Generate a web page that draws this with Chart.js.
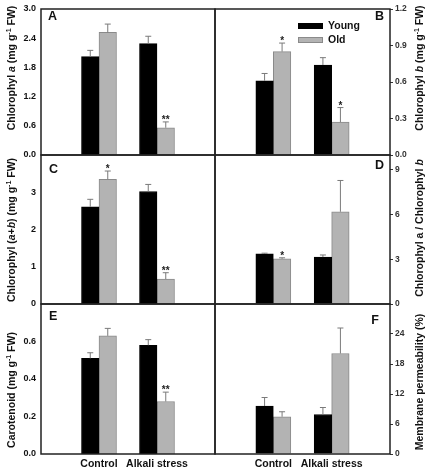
<!DOCTYPE html>
<html lang="en">
<head>
<meta charset="UTF-8">
<title>Leaf pigments and membrane permeability</title>
<script src="https://cdn.jsdelivr.net/npm/chart.js"></script>
<style>
  body { margin: 0; background: #fff; font-family: 'Liberation Sans', Arial, sans-serif; }
  #fig { position: relative; width: 430px; height: 472px; overflow: hidden; }
  #fig canvas { position: absolute; }
  .ytitle {
    position: absolute;
    font-size: 10.5px;
    font-weight: bold;
    color: #111;
    white-space: nowrap;
    transform: translate(-50%, -50%) rotate(-90deg);
  }
  .ytitle sup { font-size: 7px; line-height: 0; vertical-align: 4px; }
</style>
</head>
<body>
<div id="fig">
  <canvas id="pA" width="217" height="162" style="left:0;top:0"></canvas>
  <canvas id="pB" width="217" height="162" style="left:213px;top:0"></canvas>
  <canvas id="pC" width="217" height="164" style="left:0;top:148px"></canvas>
  <canvas id="pD" width="217" height="164" style="left:213px;top:148px"></canvas>
  <canvas id="pE" width="217" height="175" style="left:0;top:297px"></canvas>
  <canvas id="pF" width="217" height="175" style="left:213px;top:297px"></canvas>

  <div class="ytitle" style="left:11px;top:68px">Chlorophyl <i>a</i> (mg g<sup>-1</sup> FW)</div>
  <div class="ytitle" style="left:11px;top:230px">Chlorophyl (<i>a</i>+<i>b</i>) (mg g<sup>-1</sup> FW)</div>
  <div class="ytitle" style="left:11px;top:390px">Carotenoid (mg g<sup>-1</sup> FW)</div>
  <div class="ytitle" style="left:419px;top:68px">Chlorophyl <i>b</i> (mg g<sup>-1</sup> FW)</div>
  <div class="ytitle" style="left:419px;top:228px">Chlorophyl a / Chlorophyl <i>b</i></div>
  <div class="ytitle" style="left:419px;top:382px">Membrane permeability (%)</div>
</div>

<script>
  // categories and series
  const groups = ['Control', 'Alkali stress'];
  const seriesNames = ['Young', 'Old'];

  // A: chlorophyll a
  const chlA_young = [2.02, 2.29];
  const chlA_youngErr = [0.13, 0.15];
  const chlA_old = [2.52, 0.56];
  const chlA_oldErr = [0.17, 0.12];
  const chlA_marks = ['', '**'];
  const chlA_ticks = [0, 0.6, 1.2, 1.8, 2.4, 3.0];

  // B: chlorophyll b
  const chlB_young = [0.61, 0.74];
  const chlB_youngErr = [0.06, 0.06];
  const chlB_old = [0.85, 0.27];
  const chlB_oldErr = [0.07, 0.12];
  const chlB_marks = ['*', '*'];
  const chlB_ticks = [0, 0.3, 0.6, 0.9, 1.2];

  // C: chlorophyll a+b
  const chlAB_young = [2.61, 3.02];
  const chlAB_youngErr = [0.2, 0.19];
  const chlAB_old = [3.35, 0.67];
  const chlAB_oldErr = [0.22, 0.17];
  const chlAB_marks = ['*', '**'];
  const chlAB_ticks = [0, 1, 2, 3];

  // D: chlorophyll a / b ratio
  const ratio_young = [3.36, 3.15];
  const ratio_youngErr = [0.05, 0.14];
  const ratio_old = [3.03, 6.19];
  const ratio_oldErr = [0.07, 2.1];
  const ratio_marks = ['*', ''];
  const ratio_ticks = [0, 3, 6, 9];

  // E: carotenoid
  const car_young = [0.51, 0.58];
  const car_youngErr = [0.03, 0.03];
  const car_old = [0.63, 0.28];
  const car_oldErr = [0.04, 0.05];
  const car_marks = ['', '**'];
  const car_ticks = [0, 0.2, 0.4, 0.6];

  // F: membrane permeability
  const mem_young = [9.6, 7.9];
  const mem_youngErr = [1.7, 1.4];
  const mem_old = [7.45, 20.1];
  const mem_oldErr = [1.0, 5.1];
  const mem_marks = ['', ''];
  const mem_ticks = [0, 6, 12, 18, 24];

  Chart.defaults.font.family = "'Liberation Sans', Arial, sans-serif";
  Chart.defaults.animation = false;

  // empty slots at both ends put the two groups at 1/3 and 2/3 of the width
  const pad = (arr, fill) => [fill, ...arr, fill];

  const framePlugin = {
    id: 'frame',
    afterDraw(chart) {
      const { ctx, chartArea: a } = chart;
      ctx.save();
      ctx.strokeStyle = '#222';
      ctx.lineWidth = 1.5;
      ctx.strokeRect(a.left, a.top, a.right - a.left, a.bottom - a.top);
      ctx.restore();
    }
  };

  const errorBarPlugin = {
    id: 'errorBars',
    afterDatasetsDraw(chart) {
      const { ctx } = chart;
      const y = chart.scales.y;
      chart.data.datasets.forEach((ds, i) => {
        chart.getDatasetMeta(i).data.forEach((bar, j) => {
          const v = ds.data[j];
          const e = ds.errors[j];
          if (v == null) return;
          const top = y.getPixelForValue(v + (e || 0));
          ctx.save();
          if (e) {
            ctx.strokeStyle = '#7a7a7a';
            ctx.lineWidth = 1;
            ctx.beginPath();
            ctx.moveTo(bar.x, bar.y);
            ctx.lineTo(bar.x, top);
            ctx.moveTo(bar.x - 3, top);
            ctx.lineTo(bar.x + 3, top);
            ctx.stroke();
          }
          const mark = ds.marks && ds.marks[j];
          if (mark) {
            ctx.fillStyle = '#222';
            ctx.font = "bold 10px 'Liberation Sans', Arial, sans-serif";
            ctx.textAlign = 'center';
            ctx.textBaseline = 'alphabetic';
            ctx.fillText(mark, bar.x, top + 1);
          }
          ctx.restore();
        });
      });
    }
  };

  const letterPlugin = {
    id: 'letter',
    afterDraw(chart, args, opts) {
      const { ctx, chartArea: a } = chart;
      ctx.save();
      ctx.fillStyle = '#111';
      ctx.font = "bold 12.5px 'Liberation Sans', Arial, sans-serif";
      ctx.textBaseline = 'middle';
      if (opts.right) {
        ctx.textAlign = 'right';
        ctx.fillText(opts.text, a.right - opts.dx, a.top + opts.dy);
      } else {
        ctx.textAlign = 'left';
        ctx.fillText(opts.text, a.left + opts.dx, a.top + opts.dy);
      }
      ctx.restore();
    }
  };

  const legendPlugin = {
    id: 'boxLegend',
    afterDraw(chart, args, opts) {
      if (!opts.show) return;
      const { ctx, chartArea: a } = chart;
      ctx.save();
      ctx.font = "bold 10.5px 'Liberation Sans', Arial, sans-serif";
      ctx.textBaseline = 'middle';
      ctx.textAlign = 'left';
      chart.data.datasets.forEach((ds, i) => {
        const sy = a.top + 14 + i * 14;
        ctx.fillStyle = ds.backgroundColor;
        ctx.fillRect(a.left + 83, sy, 25, 6);
        ctx.strokeStyle = ds.borderColor;
        ctx.lineWidth = 1;
        ctx.strokeRect(a.left + 83.5, sy + 0.5, 24, 5);
        ctx.fillStyle = '#111';
        ctx.fillText(ds.label, a.left + 113, sy + 3);
      });
      ctx.restore();
    }
  };

  function makePanel(id, cfg) {
    const right = cfg.side === 'right';
    const datasets = [
      {
        label: seriesNames[0],
        data: pad(cfg.young, null),
        errors: pad(cfg.youngErr, 0),
        marks: pad(['', ''], ''),
        backgroundColor: '#000000',
        borderColor: '#000000',
        borderWidth: 1
      },
      {
        label: seriesNames[1],
        data: pad(cfg.old, null),
        errors: pad(cfg.oldErr, 0),
        marks: pad(cfg.marks, ''),
        backgroundColor: '#b3b3b3',
        borderColor: '#8a8a8a',
        borderWidth: 1
      }
    ];

    new Chart(document.getElementById(id), {
      type: 'bar',
      data: { labels: pad(groups, ''), datasets },
      options: {
        responsive: false,
        animation: false,
        barThickness: 17.5,
        layout: {
          padding: {
            left: right ? 2 : 0,
            right: right ? 0 : 2,
            top: cfg.padTop,
            bottom: cfg.padBottom
          }
        },
        plugins: {
          legend: { display: false },
          tooltip: { enabled: false },
          letter: cfg.letter,
          boxLegend: { show: !!cfg.legend }
        },
        scales: {
          x: {
            type: 'category',
            offset: false,
            display: !!cfg.showX,
            grid: { display: false, drawTicks: false },
            border: { display: false },
            ticks: {
              autoSkip: false,
              maxRotation: 0,
              padding: 4,
              color: '#111',
              font: { size: 10.5, weight: 'bold' }
            },
            afterFit: (s) => {
              if (cfg.showX) s.height = 18;
              s.paddingLeft = 0;
              s.paddingRight = 0;
            }
          },
          y: {
            position: right ? 'right' : 'left',
            min: 0,
            max: cfg.max,
            grid: right
              ? { display: true, drawOnChartArea: false, drawTicks: true, tickLength: 3, color: '#333' }
              : { display: false, drawTicks: false },
            border: { display: false },
            afterBuildTicks: (s) => { s.ticks = cfg.ticks.map((v) => ({ value: v })); },
            afterFit: (s) => {
              s.width = right ? 40 : 41;
              // chart area is set by layout padding alone
              s.paddingTop = 0;
              s.paddingBottom = 0;
            },
            ticks: {
              padding: right ? 2 : 5,
              color: right ? '#333' : '#111',
              font: { size: right ? 8.5 : 9, weight: 'bold' },
              callback: (v) => v.toFixed(cfg.decimals)
            }
          }
        }
      },
      plugins: [errorBarPlugin, framePlugin, letterPlugin, legendPlugin]
    });
  }

  makePanel('pA', {
    side: 'left', max: 3.0, ticks: chlA_ticks, decimals: 1,
    young: chlA_young, youngErr: chlA_youngErr, old: chlA_old, oldErr: chlA_oldErr, marks: chlA_marks,
    padTop: 9, padBottom: 7, letter: { text: 'A', dx: 7, dy: 8 }
  });
  makePanel('pB', {
    side: 'right', max: 1.2, ticks: chlB_ticks, decimals: 1,
    young: chlB_young, youngErr: chlB_youngErr, old: chlB_old, oldErr: chlB_oldErr, marks: chlB_marks,
    padTop: 9, padBottom: 7, letter: { text: 'B', dx: 6, dy: 8, right: true }, legend: true
  });
  makePanel('pC', {
    side: 'left', max: 4, ticks: chlAB_ticks, decimals: 0,
    young: chlAB_young, youngErr: chlAB_youngErr, old: chlAB_old, oldErr: chlAB_oldErr, marks: chlAB_marks,
    padTop: 7, padBottom: 8, letter: { text: 'C', dx: 8, dy: 15 }
  });
  makePanel('pD', {
    side: 'right', max: 10, ticks: ratio_ticks, decimals: 0,
    young: ratio_young, youngErr: ratio_youngErr, old: ratio_old, oldErr: ratio_oldErr, marks: ratio_marks,
    padTop: 7, padBottom: 8, letter: { text: 'D', dx: 6, dy: 11, right: true }
  });
  makePanel('pE', {
    side: 'left', max: 0.8, ticks: car_ticks, decimals: 1,
    young: car_young, youngErr: car_youngErr, old: car_old, oldErr: car_oldErr, marks: car_marks,
    padTop: 7, padBottom: 0, showX: true, letter: { text: 'E', dx: 8, dy: 13 }
  });
  makePanel('pF', {
    side: 'right', max: 30, ticks: mem_ticks, decimals: 0,
    young: mem_young, youngErr: mem_youngErr, old: mem_old, oldErr: mem_oldErr, marks: mem_marks,
    padTop: 7, padBottom: 0, showX: true, letter: { text: 'F', dx: 11, dy: 17, right: true }
  });
</script>
</body>
</html>
